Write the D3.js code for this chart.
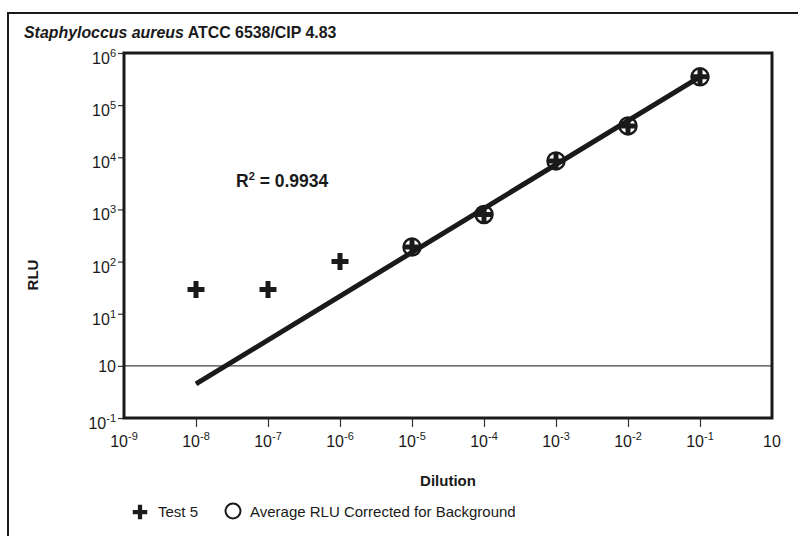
<!DOCTYPE html>
<html>
<head>
<meta charset="utf-8">
<script src="https://cdn.jsdelivr.net/npm/d3@7/dist/d3.min.js"></script>
<style>
  body { margin: 0; background: #fff; }
  svg { display: block; font-family: "Liberation Sans", Arial, sans-serif; }
</style>
</head>
<body>
<svg id="chart" width="798" height="536"></svg>
<script>
// data
var dilution = [1e-8, 1e-7, 1e-6, 1e-5, 1e-4, 1e-3, 1e-2, 1e-1];
var test5 = [29, 29, 100, 190, 800, 8500, 40000, 350000];
var avgDilution = [1e-5, 1e-4, 1e-3, 1e-2, 1e-1];
var avgRLU = [190, 800, 8500, 40000, 350000];
var fitX = [1e-8, 1e-1];
var fitY = [0.45, 350000];
var rSquared = "0.9934";

// the last x tick and the 10^0 y tick are labelled "10" in the original
var xTicks = [1e-9, 1e-8, 1e-7, 1e-6, 1e-5, 1e-4, 1e-3, 1e-2, 1e-1, 1];
var xTickSup = ["-9", "-8", "-7", "-6", "-5", "-4", "-3", "-2", "-1", ""];
var yTicks = [1e6, 1e5, 1e4, 1e3, 1e2, 10, 1, 0.1];
var yTickSup = ["6", "5", "4", "3", "2", "1", "", "-1"];

var svg = d3.select("#chart");
var pLeft = 124, pRight = 772, pTop = 53, pBottom = 418;

var x = d3.scaleLog().domain([1e-9, 1]).range([pLeft, pRight]);
var y = d3.scaleLog().domain([0.1, 1e6]).range([pBottom, pTop]);

// outer frame
svg.append("rect").attr("x", 8).attr("y", 13).attr("width", 800).attr("height", 540)
  .attr("fill", "none").attr("stroke", "#1a1a1a").attr("stroke-width", 2);

// title
var title = svg.append("text").attr("x", 24).attr("y", 38)
  .attr("font-size", 15.9).attr("font-weight", "bold").attr("fill", "#1a1a1a");
title.append("tspan").attr("font-style", "italic").text("Staphyloccus aureus");
title.append("tspan").text(" ATCC 6538/CIP 4.83");

// axes (tick lines only, labels drawn below with superscripts)
svg.append("g").attr("transform", "translate(" + pLeft + ",0)")
  .call(d3.axisLeft(y).tickValues(yTicks).tickSize(6).tickFormat(""))
  .call(function (g) { g.select(".domain").remove(); g.selectAll("line").attr("stroke", "#333").attr("stroke-width", 1.2); });

svg.append("g").attr("transform", "translate(0," + pBottom + ")")
  .call(d3.axisBottom(x).tickValues(xTicks.slice(1, -1)).tickSize(9).tickFormat(""))
  .call(function (g) { g.select(".domain").remove(); g.selectAll("line").attr("stroke", "#333").attr("stroke-width", 1.2); });

// reference line at 10^0
svg.append("line").attr("x1", pLeft).attr("x2", pRight).attr("y1", y(1)).attr("y2", y(1))
  .attr("stroke", "#444").attr("stroke-width", 1.2);

// plot box
svg.append("rect").attr("x", pLeft).attr("y", pTop).attr("width", pRight - pLeft).attr("height", pBottom - pTop)
  .attr("fill", "none").attr("stroke", "#1a1a1a").attr("stroke-width", 3);

// y tick labels
yTicks.forEach(function (v, i) {
  var t = svg.append("text").attr("x", pLeft - 8).attr("y", y(v) + (yTickSup[i] ? 11 : 6))
    .attr("text-anchor", "end").attr("font-size", 16).attr("fill", "#1a1a1a");
  t.append("tspan").text("10");
  if (yTickSup[i]) t.append("tspan").attr("font-size", 11).attr("dy", -7).text(yTickSup[i]);
});

// x tick labels
xTicks.forEach(function (v, i) {
  var t = svg.append("text").attr("x", x(v)).attr("y", 447)
    .attr("text-anchor", "middle").attr("font-size", 16).attr("fill", "#1a1a1a");
  t.append("tspan").text("10");
  if (xTickSup[i]) t.append("tspan").attr("font-size", 11).attr("dy", -7).text(xTickSup[i]);
});

// axis titles
svg.append("text").attr("x", 448).attr("y", 486).attr("text-anchor", "middle")
  .attr("font-size", 15).attr("font-weight", "bold").attr("fill", "#1a1a1a").text("Dilution");
svg.append("text").attr("transform", "translate(38,275) rotate(-90)").attr("text-anchor", "middle")
  .attr("font-size", 15).attr("font-weight", "bold").attr("fill", "#1a1a1a").text("RLU");

// regression line
var line = d3.line().x(function (d) { return x(d[0]); }).y(function (d) { return y(d[1]); });
svg.append("path").datum(d3.zip(fitX, fitY)).attr("d", line)
  .attr("fill", "none").attr("stroke", "#1a1a1a").attr("stroke-width", 5).attr("stroke-linecap", "butt");

// R squared
var r2 = svg.append("text").attr("x", 236).attr("y", 187).attr("font-size", 17.5)
  .attr("font-weight", "bold").attr("fill", "#1a1a1a");
r2.append("tspan").text("R");
r2.append("tspan").attr("font-size", 11).attr("dy", -7).text("2");
r2.append("tspan").attr("dy", 7).text(" = " + rSquared);

var plusPath = "M-8.5,-2.5H-2.5V-8.5H2.5V-2.5H8.5V2.5H2.5V8.5H-2.5V2.5H-8.5Z";

// average circles
svg.append("g").selectAll("circle").data(d3.zip(avgDilution, avgRLU)).enter().append("circle")
  .attr("cx", function (d) { return x(d[0]); }).attr("cy", function (d) { return y(d[1]); })
  .attr("r", 8.5).attr("fill", "none").attr("stroke", "#1a1a1a").attr("stroke-width", 2.5);

// test 5 plus markers
svg.append("g").selectAll("path").data(d3.zip(dilution, test5)).enter().append("path")
  .attr("d", plusPath)
  .attr("transform", function (d) { return "translate(" + x(d[0]) + "," + y(d[1]) + ")"; })
  .attr("fill", "#1a1a1a");

// legend
svg.append("path").attr("d", plusPath).attr("transform", "translate(140,512) scale(0.85)").attr("fill", "#1a1a1a");
svg.append("text").attr("x", 158).attr("y", 517).attr("font-size", 15).attr("fill", "#1a1a1a").text("Test 5");
svg.append("circle").attr("cx", 233).attr("cy", 511).attr("r", 7.5)
  .attr("fill", "none").attr("stroke", "#1a1a1a").attr("stroke-width", 2);
svg.append("text").attr("x", 250).attr("y", 517).attr("font-size", 15).attr("fill", "#1a1a1a")
  .text("Average RLU Corrected for Background");
</script>
</body>
</html>
